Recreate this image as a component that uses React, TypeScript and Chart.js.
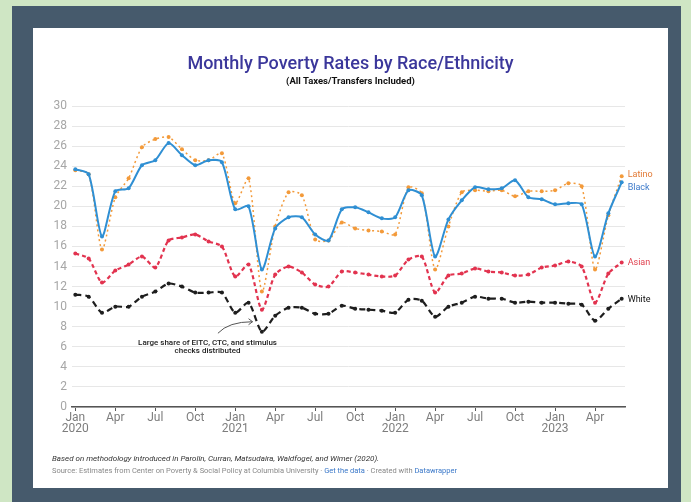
import React, { useEffect, useRef } from "react";
import { Chart, registerables } from "chart.js";

Chart.register(...registerables);

// Months: Jan 2020 – Jun 2023 (index positions on the x axis)
const months = [
  "Jan 2020", "Feb 2020", "Mar 2020", "Apr 2020", "May 2020", "Jun 2020", "Jul 2020", "Aug 2020", "Sep 2020", "Oct 2020", "Nov 2020", "Dec 2020",
  "Jan 2021", "Feb 2021", "Mar 2021", "Apr 2021", "May 2021", "Jun 2021", "Jul 2021", "Aug 2021", "Sep 2021", "Oct 2021", "Nov 2021", "Dec 2021",
  "Jan 2022", "Feb 2022", "Mar 2022", "Apr 2022", "May 2022", "Jun 2022", "Jul 2022", "Aug 2022", "Sep 2022", "Oct 2022", "Nov 2022", "Dec 2022",
  "Jan 2023", "Feb 2023", "Mar 2023", "Apr 2023", "May 2023", "Jun 2023",
];

const tickPositions = [0, 3, 6, 9, 12, 15, 18, 21, 24, 27, 30, 33, 36, 39];
const tickLabels: (string | string[])[] = [
  ["Jan", "2020"], "Apr", "Jul", "Oct",
  ["Jan", "2021"], "Apr", "Jul", "Oct",
  ["Jan", "2022"], "Apr", "Jul", "Oct",
  ["Jan", "2023"], "Apr",
];

const black = [
  23.7, 23.2, 17.0, 21.5, 21.8, 24.1, 24.6, 26.3, 25.1, 24.1, 24.6, 24.4,
  19.7, 20.0, 13.7, 17.8, 18.9, 18.9, 17.2, 16.6, 19.7, 19.9, 19.4, 18.8,
  18.9, 21.6, 21.1, 15.0, 18.7, 20.6, 21.9, 21.7, 21.8, 22.6, 20.9, 20.7,
  20.2, 20.3, 20.2, 15.0, 19.3, 22.4,
];
const latino = [
  23.6, 23.2, 15.7, 20.9, 22.8, 25.9, 26.7, 26.9, 25.7, 24.6, 24.6, 25.3,
  20.3, 22.8, 11.5, 18.0, 21.4, 21.1, 16.7, 16.6, 18.4, 17.8, 17.6, 17.5,
  17.2, 21.9, 21.3, 13.7, 18.0, 21.4, 21.6, 21.5, 21.6, 21.0, 21.5, 21.5,
  21.6, 22.3, 22.0, 13.7, 19.1, 23.0,
];
const asian = [
  15.3, 14.8, 12.4, 13.6, 14.2, 15.0, 13.9, 16.6, 16.9, 17.2, 16.5, 16.0,
  13.0, 14.2, 9.7, 13.2, 14.0, 13.4, 12.2, 12.0, 13.5, 13.4, 13.2, 13.0,
  13.1, 14.7, 15.0, 11.4, 13.1, 13.3, 13.8, 13.5, 13.4, 13.1, 13.2, 13.9,
  14.1, 14.5, 14.0, 10.4, 13.3, 14.4,
];
const white = [
  11.2, 11.0, 9.4, 10.0, 10.0, 11.0, 11.5, 12.3, 12.0, 11.4, 11.4, 11.4,
  9.4, 10.4, 7.5, 9.1, 9.9, 9.9, 9.3, 9.3, 10.1, 9.8, 9.7, 9.6,
  9.4, 10.7, 10.6, 9.0, 10.0, 10.4, 11.0, 10.8, 10.8, 10.4, 10.5, 10.4,
  10.4, 10.3, 10.2, 8.6, 9.8, 10.8,
];

const seriesNames = ["Black", "Latino", "Asian", "White"];
const annotationLines = ["Large share of EITC, CTC, and stimulus", "checks distributed"];

const COLORS = {
  Black: "#2f8fd3",
  Latino: "#f39a3a",
  Asian: "#e2334f",
  White: "#1e1e1e",
};
const LABEL_COLORS = {
  Black: "#3a78c9",
  Latino: "#e27a36",
  Asian: "#e0414f",
  White: "#111111",
};
const LABEL_DY: Record<string, number> = { Black: 5, Latino: -1, Asian: 0, White: 1 };

const endLabels = {
  id: "endLabels",
  afterDatasetsDraw(chart: any) {
    const ctx = chart.ctx;
    ctx.save();
    ctx.font = "9px Roboto";
    ctx.textBaseline = "middle";
    ctx.textAlign = "left";
    chart.data.datasets.forEach((ds: any, i: number) => {
      const meta = chart.getDatasetMeta(i);
      const pt = meta.data[meta.data.length - 1];
      if (!pt) return;
      const name = ds.label as string;
      ctx.fillStyle = (LABEL_COLORS as any)[name];
      ctx.fillText(name, pt.x + 6, pt.y + (LABEL_DY[name] || 0));
    });
    ctx.restore();
  },
};

const annotation = {
  id: "annotation",
  afterDatasetsDraw(chart: any) {
    const { ctx, scales } = chart;
    const x = scales.x;
    const y = scales.y;
    ctx.save();
    ctx.font = "500 8px Roboto";
    ctx.fillStyle = "#222";
    ctx.textAlign = "center";
    ctx.textBaseline = "middle";
    ctx.fillText(annotationLines[0], x.getPixelForValue(9.92), y.getPixelForValue(6.4));
    ctx.fillText(annotationLines[1], x.getPixelForValue(9.92), y.getPixelForValue(5.6));
    // curved arrow
    const sx = x.getPixelForValue(10.7), sy = y.getPixelForValue(7.35);
    const cx = x.getPixelForValue(11.5), cy = y.getPixelForValue(8.5);
    const ex = x.getPixelForValue(13.3), ey = y.getPixelForValue(8.5);
    ctx.strokeStyle = "#555";
    ctx.lineWidth = 1;
    ctx.beginPath();
    ctx.moveTo(sx, sy);
    ctx.quadraticCurveTo(cx, cy, ex, ey);
    ctx.stroke();
    ctx.beginPath();
    ctx.moveTo(ex - 4, ey - 3);
    ctx.lineTo(ex, ey);
    ctx.lineTo(ex - 4, ey + 3);
    ctx.stroke();
    ctx.restore();
  },
};

function makeDataset(name: string, values: number[], dash: number[], width: number) {
  const c = (COLORS as any)[name];
  return {
    label: name,
    data: values.map((v, i) => ({ x: i, y: v })),
    borderColor: c,
    backgroundColor: c,
    pointBackgroundColor: c,
    pointBorderWidth: 0,
    pointRadius: 2,
    borderWidth: width,
    borderDash: dash,
    tension: 0.25,
    fill: false,
  };
}

export default function App() {
  const ref = useRef<HTMLCanvasElement>(null);
  useEffect(() => {
    if (!ref.current) return;
    const chart = new Chart(ref.current, {
      type: "line",
      data: {
        labels: months,
        datasets: [
          makeDataset(seriesNames[0], black, [], 2),
          makeDataset(seriesNames[1], latino, [2, 3], 1.5),
          makeDataset(seriesNames[2], asian, [4, 3], 2.2),
          makeDataset(seriesNames[3], white, [6, 4], 2.2),
        ],
      },
      options: {
        animation: false,
        responsive: false,
        devicePixelRatio: 1,
        layout: { padding: { top: 78, right: 43, left: 0, bottom: 0 } },
        plugins: {
          legend: { display: false },
          tooltip: { enabled: false },
          title: { display: false },
        },
        scales: {
          x: {
            type: "linear",
            min: -0.25,
            max: 41.25,
            afterBuildTicks: (scale: any) => {
              scale.ticks = tickPositions.map((v) => ({ value: v }));
            },
            afterFit: (scale: any) => {
              scale.height = 81;
            },
            ticks: {
              autoSkip: false,
              maxRotation: 0,
              padding: 1,
              color: "#7d7d7d",
              font: { family: "Roboto", size: 12, lineHeight: 0.92 },
              callback: (_v: any, i: number) => tickLabels[i],
            },
            grid: {
              drawOnChartArea: false,
              drawTicks: true,
              tickLength: 4,
              color: "#555",
            },
            border: { display: true, color: "#555", width: 1.5 },
          },
          y: {
            min: 0,
            max: 30,
            afterFit: (scale: any) => {
              scale.width = 39;
            },
            ticks: {
              stepSize: 2,
              padding: 5,
              color: "#a6a6a6",
              font: { family: "Roboto", size: 12 },
            },
            grid: { color: "#e7e7e7", drawTicks: false },
            border: { display: false },
          },
        },
      },
      plugins: [endLabels, annotation],
    });
    return () => chart.destroy();
  }, []);

  return (
    <div
      style={{
        position: "fixed",
        left: 0,
        top: 0,
        width: 691,
        height: 502,
        background: "#cfe6c4",
        overflow: "hidden",
      }}
    >
      <div style={{ position: "absolute", left: 12, top: 6, width: 669, height: 500, background: "#465a6c" }} />
      <div style={{ position: "absolute", left: 33, top: 28, width: 635, height: 460, background: "#ffffff" }}>
        <canvas ref={ref} width={635} height={460} style={{ position: "absolute", left: 0, top: 0, width: 635, height: 460 }} />
        <div
          style={{
            position: "absolute",
            left: 0,
            width: 635,
            top: 24,
            textAlign: "center",
            fontFamily: "Roboto",
            fontWeight: 500,
            fontSize: 18,
            lineHeight: "22px",
            color: "#3b379b",
          }}
        >
          Monthly Poverty Rates by Race/Ethnicity
        </div>
        <div
          style={{
            position: "absolute",
            left: 0,
            width: 635,
            top: 47,
            textAlign: "center",
            fontFamily: "Roboto",
            fontWeight: 700,
            fontSize: 9.5,
            lineHeight: "11px",
            color: "#111",
          }}
        >
          (All Taxes/Transfers Included)
        </div>
        <div
          style={{
            position: "absolute",
            left: 19,
            top: 425,
            fontFamily: "Roboto",
            fontStyle: "italic",
            fontSize: 8,
            lineHeight: "12px",
            color: "#333",
            whiteSpace: "nowrap",
          }}
        >
          Based on methodology introduced in Parolin, Curran, Matsudaira, Waldfogel, and Wimer (2020).
        </div>
        <div
          style={{
            position: "absolute",
            left: 19,
            top: 437,
            fontFamily: "Roboto",
            fontSize: 7.5,
            lineHeight: "12px",
            color: "#888",
            whiteSpace: "nowrap",
          }}
        >
          Source: Estimates from Center on Poverty &amp; Social Policy at Columbia University ·{" "}
          <span style={{ color: "#3a78c9" }}>Get the data</span> · Created with{" "}
          <span style={{ color: "#3a78c9" }}>Datawrapper</span>
        </div>
      </div>
    </div>
  );
}
